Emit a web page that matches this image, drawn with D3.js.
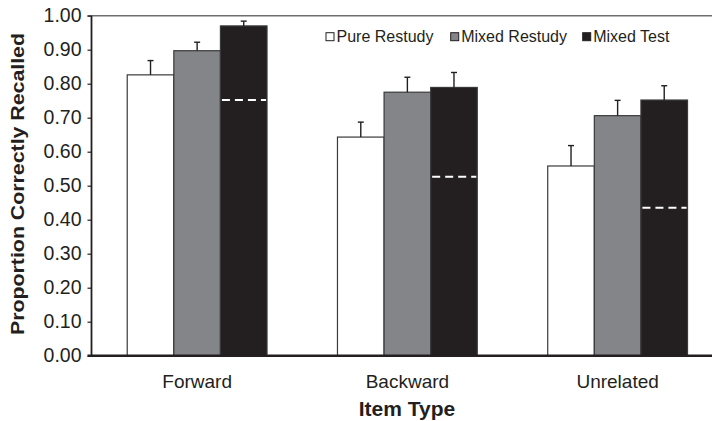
<!DOCTYPE html>
<html>
<head>
<meta charset="utf-8">
<script src="https://cdn.jsdelivr.net/npm/d3@7"></script>
<style>
  html, body { margin: 0; padding: 0; background: #fff; }
  svg { display: block; font-family: "Liberation Sans", Arial, sans-serif; }
</style>
</head>
<body>
<svg id="chart" width="712" height="421"></svg>
<script>
const categories = ["Forward", "Backward", "Unrelated"];
const series = ["Pure Restudy", "Mixed Restudy", "Mixed Test"];
const pureRestudy = [0.826, 0.643, 0.558];
const mixedRestudy = [0.897, 0.775, 0.706];
const mixedTest = [0.970, 0.789, 0.752];
const pureRestudyErr = [0.042, 0.044, 0.060];
const mixedRestudyErr = [0.025, 0.044, 0.045];
const mixedTestErr = [0.014, 0.044, 0.042];
const mixedTestBaseline = [0.752, 0.526, 0.435];
const yTicks = [0, 0.1, 0.2, 0.3, 0.4, 0.5, 0.6, 0.7, 0.8, 0.9, 1.0];
const seriesColors = ["#ffffff", "#848589", "#231f20"];

const seriesValues = [pureRestudy, mixedRestudy, mixedTest];
const seriesErrs = [pureRestudyErr, mixedRestudyErr, mixedTestErr];

const rows = [];
categories.forEach((c, ci) => {
  series.forEach((s, si) => {
    rows.push({ cat: c, ser: s, si, value: seriesValues[si][ci], err: seriesErrs[si][ci] });
  });
});

const svg = d3.select("#chart");
const plotLeft = 91.5, plotRight = 722.75, plotTop = 15.7, plotBottom = 355.7;

const x0 = d3.scaleBand().domain(categories).range([92, plotRight]).paddingInner(0).paddingOuter(0);
const x1 = d3.scaleBand().domain(series).range([0, x0.bandwidth()]).paddingInner(0).paddingOuter(0.756);
const y = d3.scaleLinear().domain([0, 1]).range([plotBottom, plotTop]);
const color = d3.scaleOrdinal().domain(series).range(seriesColors);

// top frame line
svg.append("line")
  .attr("x1", plotLeft - 4).attr("x2", 712)
  .attr("y1", y(1)).attr("y2", y(1))
  .attr("stroke", "#6d6e70").attr("stroke-width", 1.5);

// bars
const g = svg.append("g");
g.selectAll("rect.bar").data(rows).enter().append("rect")
  .attr("class", "bar")
  .attr("x", d => x0(d.cat) + x1(d.ser))
  .attr("y", d => y(d.value))
  .attr("width", x1.bandwidth())
  .attr("height", d => y(0) - y(d.value))
  .attr("fill", d => color(d.ser))
  .attr("stroke", "#3a3a3c")
  .attr("stroke-width", 1.2);

// error bars
const capW = 6;
g.selectAll("line.err").data(rows).enter().append("line")
  .attr("x1", d => x0(d.cat) + x1(d.ser) + x1.bandwidth() / 2)
  .attr("x2", d => x0(d.cat) + x1(d.ser) + x1.bandwidth() / 2)
  .attr("y1", d => y(d.value))
  .attr("y2", d => y(d.value + d.err))
  .attr("stroke", "#231f20").attr("stroke-width", 1.4);
g.selectAll("line.cap").data(rows).enter().append("line")
  .attr("x1", d => x0(d.cat) + x1(d.ser) + x1.bandwidth() / 2 - capW / 2)
  .attr("x2", d => x0(d.cat) + x1(d.ser) + x1.bandwidth() / 2 + capW / 2)
  .attr("y1", d => y(d.value + d.err))
  .attr("y2", d => y(d.value + d.err))
  .attr("stroke", "#231f20").attr("stroke-width", 1.4);

// dashed baseline lines in Mixed Test bars
g.selectAll("line.base").data(categories).enter().append("line")
  .attr("x1", (c) => x0(c) + x1("Mixed Test") + 1.5)
  .attr("x2", (c) => x0(c) + x1("Mixed Test") + x1.bandwidth() - 1)
  .attr("y1", (c, i) => y(mixedTestBaseline[i]))
  .attr("y2", (c, i) => y(mixedTestBaseline[i]))
  .attr("stroke", "#ffffff").attr("stroke-width", 2)
  .attr("stroke-dasharray", "8,5");

// y axis
const yAxis = svg.append("g")
  .attr("transform", `translate(${plotLeft},0)`)
  .call(d3.axisLeft(y).tickValues(yTicks).tickFormat(d3.format(".2f")).tickSize(4).tickPadding(6));
yAxis.select(".domain").attr("stroke", "#231f20").attr("stroke-width", 1.8)
  .attr("d", `M0,${y(1)}V${y(0)}`);
yAxis.selectAll(".tick line").attr("stroke", "#231f20").attr("stroke-width", 1.2);
yAxis.selectAll(".tick text")
  .attr("font-family", "'Liberation Sans', Arial, sans-serif")
  .attr("font-size", "19.5px").attr("fill", "#231f20");

// x axis
const xAxis = svg.append("g")
  .attr("transform", `translate(0,${plotBottom})`)
  .call(d3.axisBottom(x0).tickSize(0).tickPadding(19));
xAxis.select(".domain").attr("stroke", "#231f20").attr("stroke-width", 2.4)
  .attr("d", `M${plotLeft - 4},0H712`);
xAxis.selectAll(".tick text")
  .attr("font-family", "'Liberation Sans', Arial, sans-serif")
  .attr("font-size", "19px").attr("fill", "#231f20");

// axis titles
svg.append("text")
  .attr("x", 407).attr("y", 415.5)
  .attr("text-anchor", "middle")
  .attr("font-weight", "bold").attr("font-size", "21px").attr("fill", "#231f20")
  .text("Item Type");

svg.append("text")
  .attr("transform", `translate(24,${(33 + 335) / 2}) rotate(-90)`)
  .attr("text-anchor", "middle")
  .attr("font-weight", "bold").attr("font-size", "17.5px").attr("fill", "#231f20")
  .attr("textLength", 302).attr("lengthAdjust", "spacingAndGlyphs")
  .text("Proportion Correctly Recalled");

// legend
const legendX = [326, 450.7, 582.7];
const leg = svg.append("g").selectAll("g").data(series).enter().append("g")
  .attr("transform", (d, i) => `translate(${legendX[i]},0)`);
leg.append("rect")
  .attr("x", 0).attr("y", 32.7).attr("width", 8).attr("height", 8)
  .attr("fill", d => color(d)).attr("stroke", "#231f20").attr("stroke-width", 1);
leg.append("text")
  .attr("x", 10.5).attr("y", 42)
  .attr("font-size", "16px").attr("fill", "#231f20")
  .text(d => d);
</script>
</body>
</html>
